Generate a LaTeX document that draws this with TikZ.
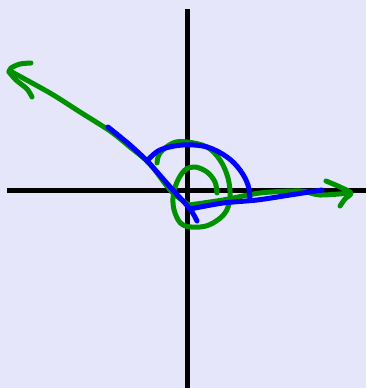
\documentclass[tikz,border=0pt]{standalone}
\definecolor{bgc}{RGB}{230,230,250}
\definecolor{gr}{RGB}{0,145,0}
\definecolor{bl}{RGB}{0,0,255}
\tikzset{
  axis/.style={line width=5pt,black},
  gstroke/.style={line width=5pt,gr,line cap=round,line join=round},
  bstroke/.style={line width=5pt,bl,line cap=round,line join=round}
}
\begin{document}
\begin{tikzpicture}[x=1pt,y=-1pt]
\fill[bgc] (0,0) rectangle (366,388);
\useasboundingbox (0,0) rectangle (366,388);
% axes
\draw[axis] (7,190) -- (366,190);
\draw[axis] (187,9) -- (187,388);
% green diagonal with left arrowhead
\draw[gstroke] plot[smooth,tension=0.5] coordinates {(31,63) (20,64) (11,68) (9,72)};
\draw[gstroke] plot[smooth,tension=0.5] coordinates {(9,72) (16,80) (27,89) (32,97)};
\draw[gstroke] plot[smooth,tension=0.5] coordinates {(10,71) (50,93) (80,112) (110,131) (130,147) (150,164) (171,191) (189,205)};
% green horizontal with right arrowhead
\draw[gstroke] plot[smooth,tension=0.5] coordinates {(189,205) (223,200) (260,193) (300,191) (320,195) (350,193)};
\draw[gstroke] plot[smooth,tension=0.5] coordinates {(326,181) (340,187) (351,193) (345,199) (340,206)};
% green spiral
\draw[gstroke] plot[smooth,tension=0.6] coordinates {(157,163) (160,153) (173,143) (187,142) (207,147) (220,160) (228,178) (230,198) (225,213) (213,223) (200,227) (183,225) (175,213) (173,198) (177,182) (185,170) (195,167) (207,172) (215,182) (217,193)};
% blue diagonal
\draw[bstroke] plot[smooth,tension=0.5] coordinates {(108,127) (130,145) (148,162) (172,189) (190,209) (197,221)};
% blue horizontal
\draw[bstroke] plot[smooth,tension=0.5] coordinates {(190,209) (223,203) (257,200) (290,195) (322,190)};
% blue arc
\draw[bstroke] plot[smooth,tension=0.6] coordinates {(147,161) (160,150) (183,145) (207,147) (227,157) (240,170) (248,185) (250,200)};
\end{tikzpicture}
\end{document}
